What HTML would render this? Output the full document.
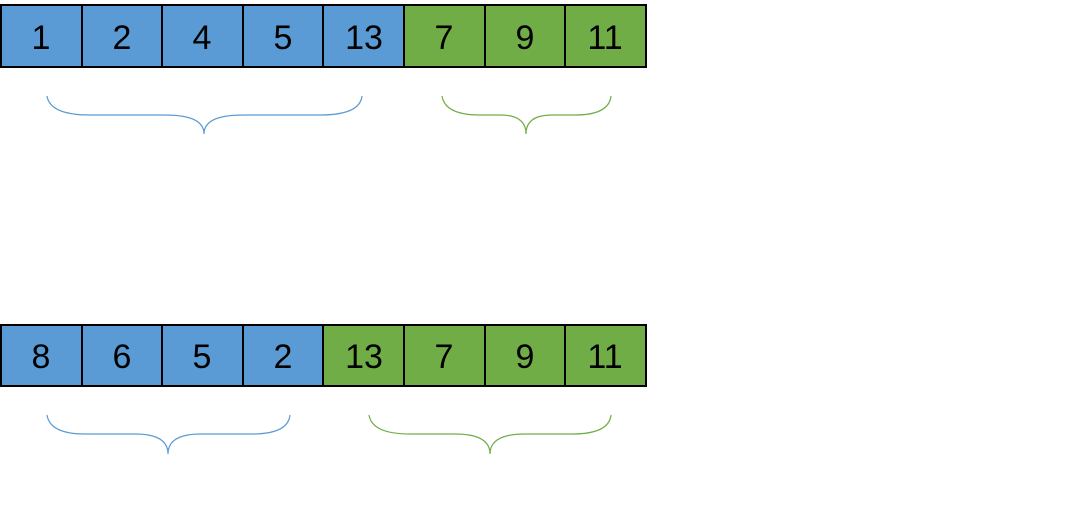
<!DOCTYPE html>
<html><head><meta charset="utf-8"><style>html,body{margin:0;padding:0;background:#fff}</style></head>
<body>
<svg width="1078" height="521" xmlns="http://www.w3.org/2000/svg" font-family="'Liberation Sans', sans-serif" font-size="34" text-anchor="middle">
<g stroke="#000" stroke-width="2">
<rect x="1" y="5" width="81" height="62" fill="#5b9bd5"/>
<rect x="82" y="5" width="80" height="62" fill="#5b9bd5"/>
<rect x="162" y="5" width="81" height="62" fill="#5b9bd5"/>
<rect x="243" y="5" width="80" height="62" fill="#5b9bd5"/>
<rect x="323" y="5" width="81" height="62" fill="#5b9bd5"/>
<rect x="404" y="5" width="81" height="62" fill="#70ad47"/>
<rect x="485" y="5" width="80" height="62" fill="#70ad47"/>
<rect x="565" y="5" width="81" height="62" fill="#70ad47"/>
<rect x="1" y="325" width="81" height="61" fill="#5b9bd5"/>
<rect x="82" y="325" width="80" height="61" fill="#5b9bd5"/>
<rect x="162" y="325" width="81" height="61" fill="#5b9bd5"/>
<rect x="243" y="325" width="80" height="61" fill="#5b9bd5"/>
<rect x="323" y="325" width="81" height="61" fill="#70ad47"/>
<rect x="404" y="325" width="81" height="61" fill="#70ad47"/>
<rect x="485" y="325" width="80" height="61" fill="#70ad47"/>
<rect x="565" y="325" width="81" height="61" fill="#70ad47"/>
</g>
<g fill="#000">
<text x="41" y="49">1</text><text x="122" y="49">2</text><text x="202" y="49">4</text><text x="283" y="49">5</text><text x="364" y="49">13</text><text x="444" y="49">7</text><text x="525" y="49">9</text><text x="605" y="49">11</text>
<text x="41" y="368">8</text><text x="122" y="368">6</text><text x="202" y="368">5</text><text x="283" y="368">2</text><text x="364" y="368">13</text><text x="444" y="368">7</text><text x="525" y="368">9</text><text x="605" y="368">11</text>
</g>
<g fill="none" stroke-width="1.2">
<path stroke="#5b9bd5" d="M47 96 Q50 115 90 115 L165 115 Q204 115 204 134 Q204 115 243 115 L320 115 Q360 115 362 96"/>
<path stroke="#70ad47" d="M442 96 Q445 115 480 115 L500 115 Q526 115 526 134 Q526 115 552 115 L575 115 Q609 115 611 96"/>
<path stroke="#5b9bd5" d="M47 415 Q50 434 85 434 L135 434 Q168 434 168 454 Q168 434 201 434 L252 434 Q288 434 290 415"/>
<path stroke="#70ad47" d="M369 415 Q372 434 410 434 L455 434 Q490 434 490 454 Q490 434 525 434 L572 434 Q609 434 611 415"/>
</g>
</svg>
</body></html>
